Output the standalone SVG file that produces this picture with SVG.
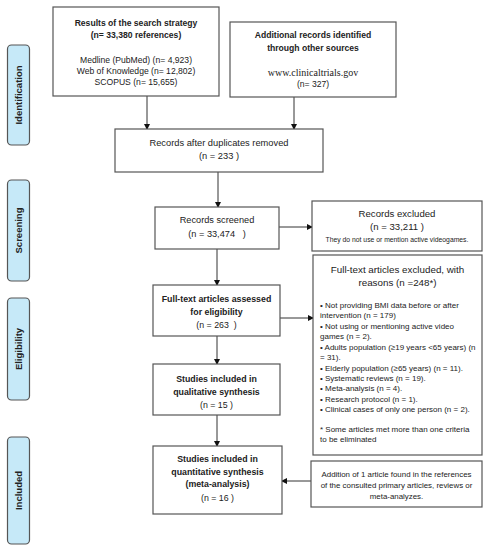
<svg xmlns="http://www.w3.org/2000/svg" width="488" height="550" viewBox="0 0 488 550">
<defs>
<marker id="ah" markerWidth="6" markerHeight="6" refX="5" refY="3" orient="auto" markerUnits="userSpaceOnUse">
<path d="M0,0 L6,3 L0,6 Z" fill="#111"/>
</marker>
<style>
.box{fill:#fff;stroke:#555;stroke-width:1.2}
.side{fill:#c6e9f8;stroke:#555;stroke-width:1.2}
.t{font-family:"Liberation Sans",Arial,sans-serif;fill:#222;text-anchor:middle}
.b{font-weight:bold}
.l{text-anchor:start}
.c{stroke:#333;stroke-width:1;fill:none;marker-end:url(#ah)}
</style>
</defs>
<rect width="488" height="550" fill="#fff"/>

<g id="side-identification"><rect class="side" x="7.5" y="45" width="22" height="100" rx="4"/><text class="t b" font-size="9.5" transform="translate(22,95) rotate(-90)">Identification</text></g>
<g id="side-screening"><rect class="side" x="7.5" y="180" width="22" height="101" rx="4"/><text class="t b" font-size="9.5" transform="translate(22,230.5) rotate(-90)">Screening</text></g>
<g id="side-eligibility"><rect class="side" x="7.5" y="298" width="22" height="102" rx="4"/><text class="t b" font-size="9.5" transform="translate(22,349) rotate(-90)">Eligibility</text></g>
<g id="side-included"><rect class="side" x="7.5" y="437" width="22" height="107" rx="4"/><text class="t b" font-size="9.5" transform="translate(22,490.5) rotate(-90)">Included</text></g>

<g id="connectors">
<line class="c" x1="147" y1="96" x2="147" y2="129"/>
<line class="c" x1="294" y1="97" x2="294" y2="129"/>
<line class="c" x1="218" y1="172" x2="218" y2="207"/>
<line class="c" x1="279" y1="227" x2="312" y2="227"/>
<line class="c" x1="217" y1="249" x2="217" y2="285"/>
<line class="c" x1="280" y1="318" x2="313" y2="318"/>
<line class="c" x1="217" y1="336" x2="217" y2="364"/>
<line class="c" x1="217" y1="415" x2="217" y2="446"/>
<line class="c" x1="311" y1="481" x2="282" y2="481"/>
</g>

<g id="n-search">
<rect class="box" x="53" y="7" width="166" height="89"/>
<text class="t b" font-size="8.6" x="136" y="26">Results of the search strategy</text>
<text class="t b" font-size="8.6" x="136" y="37.5">(n= 33,380 references)</text>
<text class="t" font-size="8.6" x="136" y="63">Medline (PubMed) (n= 4,923)</text>
<text class="t" font-size="8.6" x="136" y="74">Web of Knowledge (n= 12,802)</text>
<text class="t" font-size="8.6" x="136" y="85">SCOPUS (n= 15,655)</text>
</g>

<g id="n-additional">
<rect class="box" x="230" y="22" width="166" height="75"/>
<text class="t b" font-size="8.6" x="313" y="38">Additional records identified</text>
<text class="t b" font-size="8.6" x="313" y="51">through other sources</text>
<text class="t" font-size="10" x="313" y="76" style="font-family:'Liberation Serif','Times New Roman',serif">www.clinicaltrials.gov</text>
<text class="t" font-size="8.6" x="313" y="87">(n= 327)</text>
</g>

<g id="n-duplicates">
<rect class="box" x="115" y="129" width="208" height="43"/>
<text class="t" font-size="9.3" x="219" y="146">Records after duplicates removed</text>
<text class="t" font-size="9.3" x="219" y="159">(n = 233 )</text>
</g>

<g id="n-screened">
<rect class="box" x="155" y="207" width="124" height="42"/>
<text class="t" font-size="9.2" x="217" y="223">Records screened</text>
<text class="t" font-size="9.2" x="217" y="237" xml:space="preserve">(n = 33,474   )</text>
</g>

<g id="n-excluded">
<rect class="box" x="312" y="201" width="170" height="50"/>
<text class="t" font-size="9.6" x="397" y="217">Records excluded</text>
<text class="t" font-size="9.6" x="397" y="230">(n = 33,211 )</text>
<text class="t" font-size="6.8" x="397" y="242">They do not use or mention active videogames.</text>
</g>

<g id="n-assessed">
<rect class="box" x="153" y="285" width="127" height="51"/>
<text class="t b" font-size="8.8" x="216.5" y="302">Full-text articles assessed</text>
<text class="t b" font-size="8.8" x="216.5" y="315">for eligibility</text>
<text class="t" font-size="8.8" x="216.5" y="328" xml:space="preserve">(n = 263  )</text>
</g>

<g id="n-fulltext-excluded">
<rect class="box" x="313" y="255" width="169" height="200"/>
<text class="t" font-size="9.8" x="397.5" y="273">Full-text articles excluded, with</text>
<text class="t" font-size="9.8" x="397.5" y="286">reasons (n =248*)</text>
<g class="t l" font-size="8">
<text class="t l" x="320" y="308">• Not providing BMI data before or after</text>
<text class="t l" x="320" y="318.3">intervention (n = 179)</text>
<text class="t l" x="320" y="329">• Not using or mentioning active video</text>
<text class="t l" x="320" y="339.3">games (n = 2).</text>
<text class="t l" x="320" y="350">• Adults population (≥19 years &lt;65 years) (n</text>
<text class="t l" x="320" y="360.3">= 31).</text>
<text class="t l" x="320" y="370.5">• Elderly population (≥65 years) (n = 11).</text>
<text class="t l" x="320" y="381">• Systematic reviews (n = 19).</text>
<text class="t l" x="320" y="391.3">• Meta-analysis (n = 4).</text>
<text class="t l" x="320" y="401.5">• Research protocol (n = 1).</text>
<text class="t l" x="320" y="412">• Clinical cases of only one person (n = 2).</text>
<text class="t l" x="320" y="432">* Some articles met more than one criteria</text>
<text class="t l" x="320" y="442.3">to be eliminated</text>
</g>
</g>

<g id="n-qualitative">
<rect class="box" x="153" y="364" width="127" height="51"/>
<text class="t b" font-size="8.8" x="216.5" y="382">Studies included in</text>
<text class="t b" font-size="8.8" x="216.5" y="395">qualitative synthesis</text>
<text class="t" font-size="8.8" x="216.5" y="407.5">(n =  15 )</text>
</g>

<g id="n-quantitative">
<rect class="box" x="153" y="446" width="129" height="68"/>
<text class="t b" font-size="8.8" x="217.5" y="462">Studies included in</text>
<text class="t b" font-size="8.8" x="217.5" y="474.5">quantitative synthesis</text>
<text class="t b" font-size="8.8" x="217.5" y="487">(meta-analysis)</text>
<text class="t" font-size="8.8" x="217.5" y="501">(n =  16 )</text>
</g>

<g id="n-addition">
<rect class="box" x="311" y="461" width="171" height="46"/>
<text class="t" font-size="7.9" x="396.5" y="477">Addition of 1 article found in the references</text>
<text class="t" font-size="7.9" x="396.5" y="488">of the consulted primary articles, reviews or</text>
<text class="t" font-size="7.9" x="396.5" y="499">meta-analyzes.</text>
</g>
</svg>
